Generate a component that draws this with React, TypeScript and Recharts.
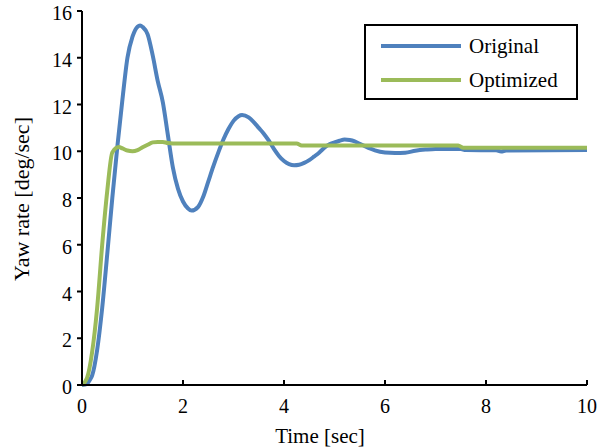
import { LineChart, Line, XAxis, YAxis, Label } from 'recharts';

const originalTime = [
  0, 0.1, 0.15, 0.2, 0.3, 0.4, 0.5, 0.6, 0.7, 0.8, 0.9, 1.0, 1.1, 1.15, 1.2, 1.3, 1.4, 1.5, 1.6, 1.7,
  1.8, 1.9, 2.0, 2.1, 2.17, 2.3, 2.4, 2.5, 2.6, 2.7, 2.8, 2.9, 3.0, 3.1, 3.17, 3.3, 3.4, 3.5, 3.6,
  3.7, 3.8, 3.9, 4.0, 4.1, 4.2, 4.3, 4.4, 4.5, 4.6, 4.7, 4.8, 4.9, 5.0, 5.1, 5.2, 5.3, 5.4, 5.5,
  5.6, 5.7, 5.8, 6.0, 6.2, 6.4, 6.6, 6.8, 7.0, 7.5, 7.6, 8.2, 8.3, 8.4, 10.0,
];
const originalRate = [
  0, 0.05, 0.2, 0.4, 1.5, 3.3, 5.6, 8.0, 10.2, 12.2, 14.0, 14.9, 15.33, 15.38, 15.32, 15.0, 14.1,
  13.0, 12.1, 10.7, 9.3, 8.4, 7.85, 7.55, 7.46, 7.62, 8.05, 8.7, 9.35, 9.95, 10.5, 10.95, 11.3, 11.5,
  11.55, 11.45, 11.25, 11.0, 10.75, 10.45, 10.1, 9.8, 9.58, 9.45, 9.4, 9.42, 9.5, 9.62, 9.78, 9.95,
  10.15, 10.3, 10.38, 10.45, 10.5, 10.48, 10.42, 10.32, 10.22, 10.12, 10.04, 9.95, 9.93, 9.94, 10.02,
  10.07, 10.1, 10.1, 10.05, 10.04, 9.99, 10.03, 10.05,
];

const optimizedTime = [
  0, 0.1, 0.2, 0.3, 0.4, 0.5, 0.6, 0.73, 0.8, 0.9, 1.0, 1.1, 1.2, 1.3, 1.4, 1.5, 1.6, 1.7, 1.8,
  4.25, 4.35, 7.45, 7.55, 10.0,
];
const optimizedRate = [
  0, 0.3, 1.4, 3.3, 6.0, 8.3, 9.95, 10.18, 10.12, 10.03, 10.0, 10.05, 10.17, 10.28, 10.38, 10.4,
  10.4, 10.35, 10.33, 10.33, 10.25, 10.25, 10.15, 10.15,
];

const timeTicks = [0, 2, 4, 6, 8, 10];
const rateTicks = [0, 2, 4, 6, 8, 10, 12, 14, 16];

const seriesNames = ['Original', 'Optimized'];
const seriesColors = ['#4f81bd', '#9bbb59'];

const originalData = originalTime.map((t, i) => ({ t, v: originalRate[i] }));
const optimizedData = optimizedTime.map((t, i) => ({ t, v: optimizedRate[i] }));

const FONT = 'Liberation Serif';

// x ticks point up into the plot, labels sit below the axis
function TimeTick({ x, y, payload }: any) {
  return (
    <g>
      <line x1={x} x2={x} y1={y} y2={y - 5} stroke="#000" strokeWidth={2} />
      <text x={x} y={y + 28} textAnchor="middle" fontSize={20} fontFamily={FONT} fill="#000">
        {payload.value}
      </text>
    </g>
  );
}

function RateTick({ x, y, payload }: any) {
  return (
    <g>
      <line x1={x} x2={x + 5} y1={y} y2={y} stroke="#000" strokeWidth={2} />
      <text x={x - 5} y={y + 9} textAnchor="end" fontSize={20} fontFamily={FONT} fill="#000">
        {payload.value}
      </text>
    </g>
  );
}

function LegendBox() {
  return (
    <div
      style={{
        position: 'absolute',
        left: 364,
        top: 24,
        width: 214,
        height: 76,
        boxSizing: 'border-box',
        border: '2px solid #000',
        background: '#fff',
        fontFamily: FONT,
        fontSize: 21,
        color: '#000',
        paddingTop: 3,
      }}
    >
      {seriesNames.map((name, i) => (
        <div key={name} style={{ display: 'flex', alignItems: 'center', height: 34 }}>
          <div style={{ width: 80, height: 4, background: seriesColors[i], marginLeft: 15, marginRight: 8 }} />
          <span>{name}</span>
        </div>
      ))}
    </div>
  );
}

export default function App() {
  return (
    <div style={{ position: 'absolute', left: 0, top: 0, width: 604, height: 448, background: '#fff' }}>
      <LineChart width={604} height={448} margin={{ top: 11, right: 17, bottom: 23, left: 22 }}>
        <XAxis
          dataKey="t"
          type="number"
          domain={[0, 10]}
          ticks={timeTicks}
          allowDuplicatedCategory={false}
          height={40}
          stroke="#000"
          strokeWidth={2}
          tickLine={false}
          tickSize={0}
          tickMargin={0}
          tick={<TimeTick />}
        >
          <Label
            content={() => (
              <text x={320} y={443} textAnchor="middle" fontSize={21} fontFamily={FONT} fill="#000">
                Time [sec]
              </text>
            )}
          />
        </XAxis>
        <YAxis
          type="number"
          domain={[0, 16]}
          ticks={rateTicks}
          width={60}
          stroke="#000"
          strokeWidth={2}
          tickLine={false}
          tickSize={5}
          tickMargin={0}
          tick={<RateTick />}
        >
          <Label
            content={() => (
              <text
                x={29}
                y={199}
                transform="rotate(-90 29 199)"
                textAnchor="middle"
                fontSize={22}
                fontFamily={FONT}
                fill="#000"
              >
                Yaw rate [deg/sec]
              </text>
            )}
          />
        </YAxis>
        <Line
          data={originalData}
          dataKey="v"
          name="Original"
          type="monotone"
          stroke={seriesColors[0]}
          strokeWidth={4}
          dot={false}
          isAnimationActive={false}
        />
        <Line
          data={optimizedData}
          dataKey="v"
          name="Optimized"
          type="monotone"
          stroke={seriesColors[1]}
          strokeWidth={4}
          dot={false}
          isAnimationActive={false}
        />
      </LineChart>
      <LegendBox />
    </div>
  );
}
